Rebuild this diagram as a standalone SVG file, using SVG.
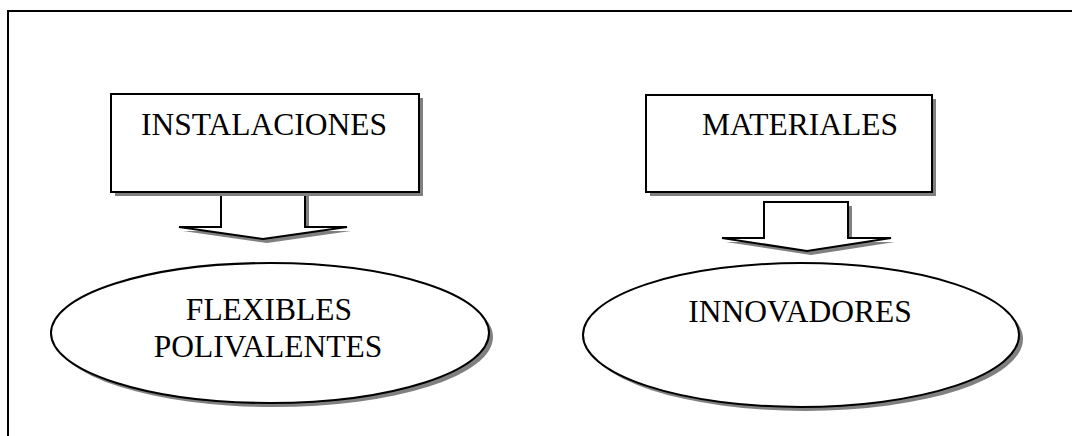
<svg xmlns="http://www.w3.org/2000/svg" width="1072" height="436" viewBox="0 0 1072 436">
<style>
.sh{fill:#808080;stroke:none}
.sp{fill:#ffffff;stroke:#000000;stroke-width:2;stroke-linejoin:miter}
.t{font-family:"Liberation Serif","Times New Roman",serif;font-size:31.5px;fill:#000000;text-anchor:middle}
</style>
<rect x="0" y="0" width="1072" height="436" fill="#ffffff"/>
<rect id="frame" x="8" y="11" width="1080" height="440" fill="none" stroke="#000000" stroke-width="2"/>
<g id="connectors">
<g id="arrow1">
<polygon class="sh" points="225,196 309,196 309,231 351,231 267,243 183,231 225,231"/>
<polygon class="sp" points="221,192 305,192 305,227 347,227 263,239 179,227 221,227"/>
</g>
<g id="arrow2">
<polygon class="sh" points="768,206 852,206 852,242 895,242 811,255 726,242 768,242"/>
<polygon class="sp" points="764,202 848,202 848,238 891,238 807,251 722,238 764,238"/>
</g>
</g>
<g id="instalaciones">
<rect class="sh" x="115" y="98" width="308" height="98"/>
<rect class="sp" x="111" y="94" width="308" height="98"/>
<text class="t" x="264" y="135">INSTALACIONES</text>
</g>
<g id="materiales">
<rect class="sh" x="650" y="99" width="286" height="97"/>
<rect class="sp" x="646" y="95" width="286" height="97"/>
<text class="t" x="800" y="135">MATERIALES</text>
</g>
<g id="flexibles">
<ellipse class="sh" cx="274" cy="337" rx="219" ry="70"/>
<ellipse class="sp" cx="270" cy="333" rx="219" ry="70"/>
<text class="t" x="269" y="320">FLEXIBLES</text>
<text class="t" x="268" y="357">POLIVALENTES</text>
</g>
<g id="innovadores">
<ellipse class="sh" cx="805" cy="339" rx="218" ry="72"/>
<ellipse class="sp" cx="801" cy="335" rx="218" ry="72"/>
<text class="t" x="800" y="322">INNOVADORES</text>
</g>
</svg>
